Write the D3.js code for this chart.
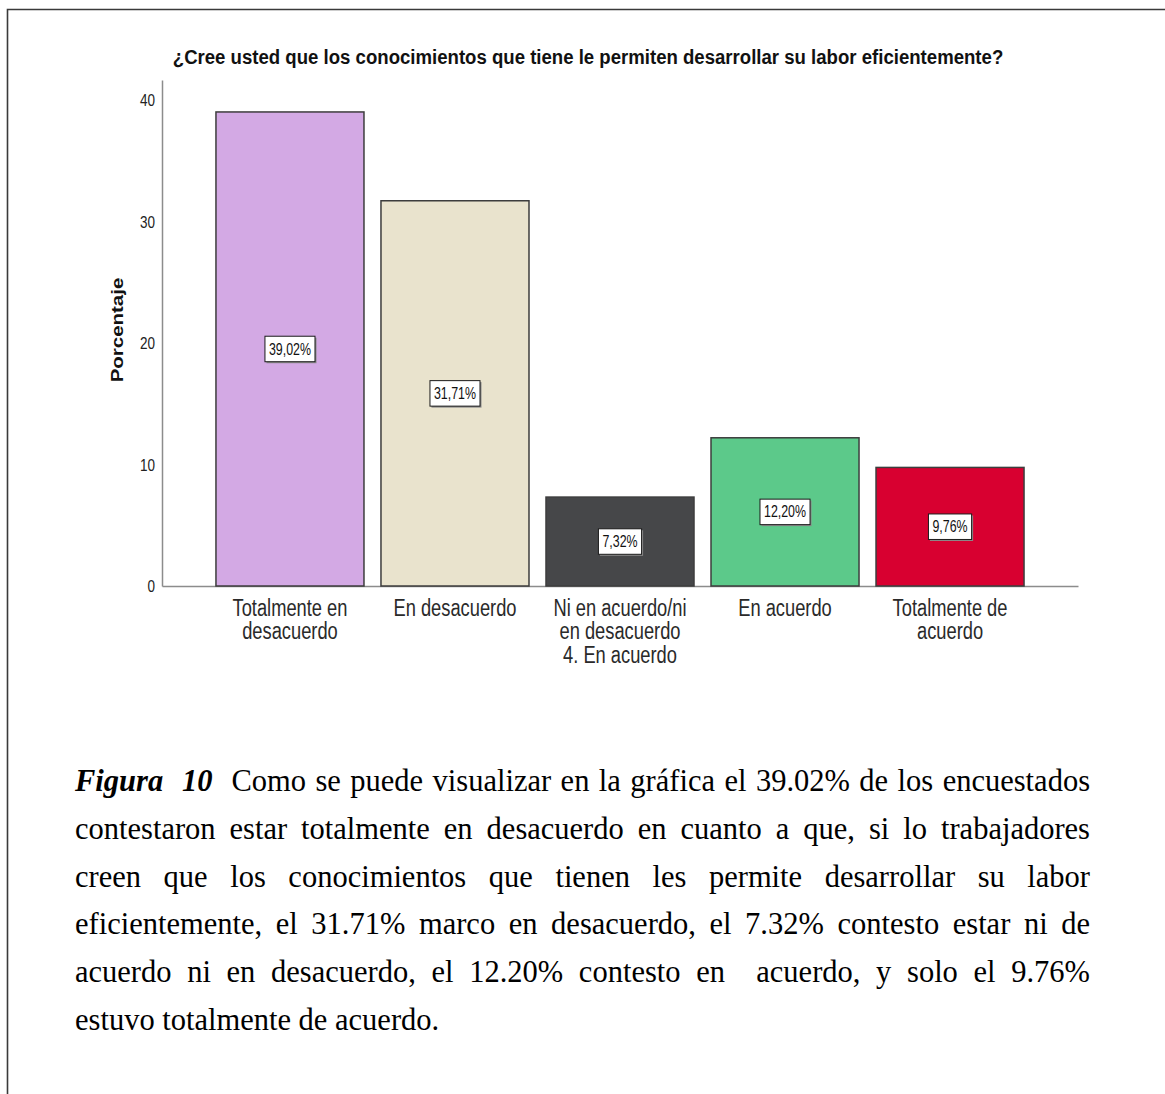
<!DOCTYPE html>
<html>
<head>
<meta charset="utf-8">
<script src="https://cdn.jsdelivr.net/npm/d3@7"></script>
<style>
  body { margin: 0; background: #fff; }
  svg { display: block; }
</style>
</head>
<body>
<svg id="fig" width="1165" height="1094"></svg>
<script>
// Response categories (line breaks follow the axis labels)
const categories = [
  "Totalmente en\ndesacuerdo",
  "En desacuerdo",
  "Ni en acuerdo/ni\nen desacuerdo\n4. En acuerdo",
  "En acuerdo",
  "Totalmente de\nacuerdo"
];
// Percentage of respondents per category
const percentages = [39.02, 31.71, 7.32, 12.20, 9.76];
// Y axis tick values
const yTicks = [0, 10, 20, 30, 40];

const chartTitle = "¿Cree usted que los conocimientos que tiene le permiten desarrollar su labor eficientemente?";
const yTitle = "Porcentaje";
const barColors = ["#d3a9e4", "#e9e3cd", "#464749", "#5cc98a", "#d80030"];

const svg = d3.select("#fig");
const SY = 1.28;                      // tall, narrow lettering of the chart
const sans = "'Liberation Sans', Arial, sans-serif";
const serif = "'Liberation Serif', 'Times New Roman', serif";

// page frame (left and top rules)
svg.append("path")
  .attr("d", "M7.5,1094V9.5H1165")
  .attr("fill", "none")
  .attr("stroke", "#3a3a3a")
  .attr("stroke-width", 1.6);

const x = d3.scaleBand()
  .domain(d3.range(categories.length))
  .range([162, 1078])
  .paddingInner(0.103)
  .paddingOuter(0.327);

const y = d3.scaleLinear()
  .domain([0, 41.65])
  .range([586, 80]);

// y axis
const yAxis = svg.append("g")
  .attr("transform", "translate(162,0)")
  .call(d3.axisLeft(y).tickValues(yTicks).tickSize(0).tickSizeOuter(0).tickPadding(7).tickFormat(d3.format("d")));
yAxis.select(".domain").attr("stroke", "#8c8c8c").attr("stroke-width", 1.5);
yAxis.selectAll("text")
  .attr("font-family", sans)
  .attr("font-size", 13.5)
  .attr("fill", "#222")
  .attr("transform", `scale(1,${SY})`);

// x axis baseline
const xAxis = svg.append("g")
  .attr("transform", "translate(0,586)")
  .call(d3.axisBottom(x).tickSize(0).tickSizeOuter(0).tickFormat(""));
xAxis.select(".domain").attr("stroke", "#8c8c8c").attr("stroke-width", 1.5);

// bars
svg.append("g").selectAll("rect")
  .data(percentages)
  .join("rect")
  .attr("x", (d, i) => x(i))
  .attr("y", d => y(d))
  .attr("width", x.bandwidth())
  .attr("height", d => y(0) - y(d))
  .attr("fill", (d, i) => barColors[i])
  .attr("stroke", "#3d3d3d")
  .attr("stroke-width", 1.5);

// value boxes in the middle of each bar
const fmtComma = d => d3.format(".2f")(d).replace(".", ",") + "%";
const vl = svg.append("g").selectAll("g")
  .data(percentages)
  .join("g")
  .attr("transform", (d, i) => `translate(${x(i) + x.bandwidth() / 2},${(y(d) + y(0)) / 2})`);
vl.each(function (d) {
  const g = d3.select(this);
  const shadow = g.append("rect").attr("fill", "#8a8a8a");
  const box = g.append("rect").attr("fill", "#fff").attr("stroke", "#1a1a1a").attr("stroke-width", 1);
  const t = g.append("text")
    .attr("font-family", sans)
    .attr("font-size", 12.4)
    .attr("fill", "#111")
    .attr("text-anchor", "middle")
    .attr("dy", "0.35em")
    .attr("transform", `scale(1,${SY})`)
    .text(fmtComma(d));
  const w = t.node().getComputedTextLength() + 8;
  const h = 25.5;
  shadow.attr("x", -w / 2 + 1.5).attr("y", -h / 2 + 1.5).attr("width", w).attr("height", h);
  box.attr("x", -w / 2).attr("y", -h / 2).attr("width", w).attr("height", h);
});

// category labels
const linePitch = 23.3;
svg.append("g").selectAll("g")
  .data(categories)
  .join("g")
  .attr("transform", (d, i) => `translate(${x(i) + x.bandwidth() / 2},608)`)
  .append("text")
  .attr("font-family", sans)
  .attr("font-size", 18.3)
  .attr("fill", "#2a2a2a")
  .attr("text-anchor", "middle")
  .attr("transform", `scale(1,${SY})`)
  .each(function (d) {
    d.split("\n").forEach((line, k) => {
      d3.select(this).append("tspan")
        .attr("x", 0)
        .attr("y", k * linePitch / SY)
        .attr("dy", "0.35em")
        .text(line);
    });
  });

// chart title
svg.append("g")
  .attr("transform", "translate(588,57)")
  .append("text")
  .attr("font-family", sans)
  .attr("font-weight", "bold")
  .attr("font-size", 18.6)
  .attr("fill", "#111")
  .attr("text-anchor", "middle")
  .attr("dy", "0.35em")
  .attr("transform", "scale(1,1.12)")
  .text(chartTitle);

// y axis title
svg.append("g")
  .attr("transform", "translate(117,330) rotate(-90)")
  .append("text")
  .attr("font-family", sans)
  .attr("font-weight", "bold")
  .attr("font-size", 16)
  .attr("fill", "#111")
  .attr("text-anchor", "middle")
  .attr("dy", "0.35em")
  .attr("transform", `scale(${SY},1)`)
  .text(yTitle);

// figure caption, justified between the margins
const f2 = d3.format(".2f");
const p = percentages;
const captionLines = [
  [["Figura  10", true], ["  Como se puede visualizar en la gráfica el " + f2(p[0]) + "% de los encuestados", false]],
  [["contestaron estar totalmente en desacuerdo en cuanto a que, si lo trabajadores", false]],
  [["creen que los conocimientos que tienen les permite desarrollar su labor", false]],
  [["eficientemente, el " + f2(p[1]) + "% marco en desacuerdo, el " + f2(p[2]) + "% contesto estar ni de", false]],
  [["acuerdo ni en desacuerdo, el " + f2(p[3]) + "% contesto en  acuerdo, y solo el " + f2(p[4]) + "%", false]],
  [["estuvo totalmente de acuerdo.", false]]
];
const capLeft = 75, capRight = 1090, capTop = 791, capPitch = 47.8;
const cap = svg.append("g")
  .attr("font-family", serif)
  .attr("font-size", 30.5)
  .attr("fill", "#000");
captionLines.forEach((segs, i) => {
  const t = cap.append("text")
    .attr("x", capLeft)
    .attr("y", capTop + i * capPitch)
    .style("white-space", "pre");
  segs.forEach(([str, strong]) => {
    const s = t.append("tspan").text(str);
    if (strong) s.attr("font-weight", "bold").attr("font-style", "italic");
  });
  if (i < captionLines.length - 1) {
    const natural = t.node().getComputedTextLength();
    const spaces = segs.map(s => s[0]).join("").split(" ").length - 1;
    t.attr("word-spacing", (capRight - capLeft - natural) / spaces);
  }
});
</script>
</body>
</html>
